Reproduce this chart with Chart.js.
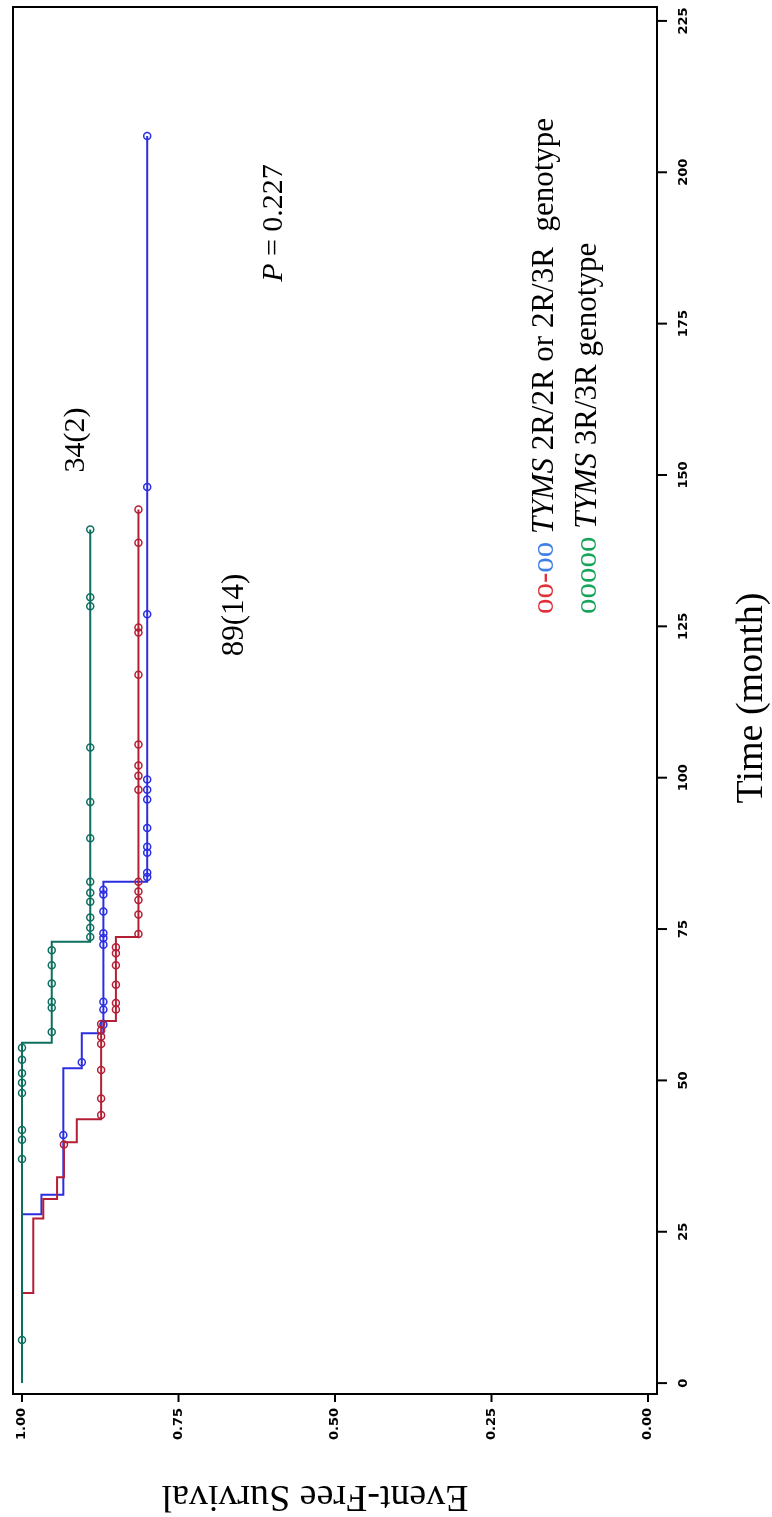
<!DOCTYPE html>
<html>
<head>
<meta charset="utf-8">
<script src="https://cdn.jsdelivr.net/npm/chart.js@4.4.1/dist/chart.umd.min.js"></script>
<style>
  html, body { margin: 0; padding: 0; background: #fff; }
  canvas { display: block; }
</style>
</head>
<body>
<canvas id="kmChart" width="772" height="1517"></canvas>
<script>
// event-free survival by TYMS genotype (time in months)
const redEventTimes = [14.9, 27.2, 30.4, 34.0, 39.8, 43.6, 59.8, 73.7];
const redSurvival   = [0.982, 0.966, 0.944, 0.933, 0.9125, 0.8736, 0.850, 0.814];
const redCensorTimes = [39.4, 44.3, 47.0, 51.7, 56.0, 57.2, 58.3, 59.3, 61.7, 62.8, 65.8, 69.0,
  71.0, 72.0, 74.2, 77.4, 79.8, 81.2, 82.8, 98.0, 100.3, 102.0, 105.5, 117.0, 124.0, 124.8,
  138.8, 144.3];

const blueEventTimes = [27.9, 31.1, 52.0, 57.8, 82.8];
const blueSurvival   = [0.969, 0.934, 0.9045, 0.870, 0.800];
const blueCensorTimes = [41.0, 53.0, 59.2, 61.7, 63.0, 72.4, 73.5, 74.3, 77.9, 80.7, 81.5,
  83.6, 84.3, 87.6, 88.6, 91.7, 96.4, 98.0, 99.7, 127.0, 148.0, 206.0];

const greenEventTimes = [56.2, 72.9];
const greenSurvival   = [0.9525, 0.891];
const greenCensorTimes = [7.1, 37.0, 40.2, 41.8, 47.9, 49.6, 51.2, 53.4, 55.4, 58.0, 62.0, 63.0,
  66.0, 69.0, 71.5, 73.7, 75.2, 76.9, 79.5, 81.0, 82.8, 90.0, 96.0, 105.0, 128.3, 129.8, 141.0];

const survivalTicks = [0, 0.25, 0.5, 0.75, 1];
const survivalTickLabels = ['0.00', '0.25', '0.50', '0.75', '1.00'];
const timeTicks = [0, 25, 50, 75, 100, 125, 150, 175, 200, 225];
const timeTickLabels = ['0', '25', '50', '75', '100', '125', '150', '175', '200', '225'];

const RED = '#b41f35';
const BLUE = '#2b2ee0';
const GREEN = '#0d6f5f';

function kmPath(times, surv, censors) {
  const pts = [{ x: 1, y: 0 }];
  times.forEach((t, i) => pts.push({ x: surv[i], y: t }));
  pts.push({ x: surv[surv.length - 1], y: Math.max(...censors) });
  return pts;
}

function survAt(times, surv, t) {
  let s = 1;
  times.forEach((tt, i) => { if (tt <= t) s = surv[i]; });
  return s;
}

function censorPoints(times, surv, censors) {
  return censors.map(t => ({ x: survAt(times, surv, t), y: t }));
}

// lower order is painted later (on top)
function curve(label, times, surv, censors, color, order) {
  return {
    label: label,
    data: kmPath(times, surv, censors),
    showLine: true,
    stepped: 'after',
    borderColor: color,
    borderWidth: 2,
    pointRadius: 0,
    fill: false,
    order: order
  };
}

function marks(label, times, surv, censors, color, order) {
  return {
    label: label,
    data: censorPoints(times, surv, censors),
    showLine: false,
    pointStyle: 'circle',
    pointRadius: 3.5,
    pointBorderWidth: 1.5,
    pointBorderColor: color,
    pointBackgroundColor: 'rgba(255,255,255,0)',
    order: order
  };
}

const datasets = [
  curve('2R/2R', redEventTimes, redSurvival, redCensorTimes, RED, 5),
  curve('2R/3R', blueEventTimes, blueSurvival, blueCensorTimes, BLUE, 6),
  curve('3R/3R', greenEventTimes, greenSurvival, greenCensorTimes, GREEN, 4),
  marks('2R/2R censored', redEventTimes, redSurvival, redCensorTimes, RED, 2),
  marks('2R/3R censored', blueEventTimes, blueSurvival, blueCensorTimes, BLUE, 3),
  marks('3R/3R censored', greenEventTimes, greenSurvival, greenCensorTimes, GREEN, 1)
];

// draws text turned by angle, made of coloured / styled runs
function runText(ctx, x, y, angle, runs, align) {
  ctx.save();
  ctx.translate(x, y);
  ctx.rotate(angle);
  ctx.textBaseline = 'middle';
  let total = 0;
  runs.forEach(r => { ctx.font = r.font; total += ctx.measureText(r.text).width; });
  let pos = align === 'center' ? -total / 2 : 0;
  ctx.textAlign = 'left';
  runs.forEach(r => {
    ctx.font = r.font;
    ctx.fillStyle = r.color || '#000';
    ctx.fillText(r.text, pos, 0);
    pos += ctx.measureText(r.text).width;
  });
  ctx.restore();
}

const SERIF = '"Liberation Serif", "Times New Roman", serif';
const TICKFONT = 'bold 13px "DejaVu Sans", sans-serif';

const framePlugin = {
  id: 'frame',
  afterDraw(chart) {
    const { ctx, chartArea: a } = chart;
    const xs = chart.scales.x, ys = chart.scales.y;
    ctx.save();
    ctx.strokeStyle = '#000';
    ctx.lineWidth = 2;
    ctx.strokeRect(a.left, a.top, a.right - a.left, a.bottom - a.top);

    // survival ticks along the bottom
    survivalTicks.forEach((v, i) => {
      const px = xs.getPixelForValue(v);
      ctx.beginPath();
      ctx.moveTo(px, a.bottom);
      ctx.lineTo(px, a.bottom + 8);
      ctx.stroke();
      runText(ctx, px, a.bottom + 30, -Math.PI / 2,
        [{ text: survivalTickLabels[i], font: TICKFONT }], 'center');
    });

    // time ticks along the right side
    timeTicks.forEach((v, i) => {
      const py = ys.getPixelForValue(v);
      ctx.beginPath();
      ctx.moveTo(a.right, py);
      ctx.lineTo(a.right + 10, py);
      ctx.stroke();
      runText(ctx, a.right + 27, py, -Math.PI / 2,
        [{ text: timeTickLabels[i], font: TICKFONT }], 'center');
    });

    // axis titles
    runText(ctx, 315, 1496, Math.PI,
      [{ text: 'Event-Free Survival', font: '38px ' + SERIF }], 'center');
    runText(ctx, 752, 698, -Math.PI / 2,
      [{ text: 'Time (month)', font: '38px ' + SERIF }], 'center');

    // annotations
    runText(ctx, 274, 223, -Math.PI / 2, [
      { text: 'P', font: 'italic 30px ' + SERIF },
      { text: ' = 0.227', font: '30px ' + SERIF }
    ], 'center');
    runText(ctx, 76, 440, -Math.PI / 2, [{ text: '34(2)', font: '30px ' + SERIF }], 'center');
    runText(ctx, 235, 615, -Math.PI / 2, [{ text: '89(14)', font: '31px ' + SERIF }], 'center');

    // legend
    runText(ctx, 545, 614, -Math.PI / 2, [
      { text: 'oo', font: '31px ' + SERIF, color: '#e0303a' },
      { text: '-', font: '31px ' + SERIF, color: '#e0303a' },
      { text: 'oo', font: '31px ' + SERIF, color: '#3d7ee8' },
      { text: ' ', font: '31px ' + SERIF },
      { text: 'TYMS', font: 'italic 31px ' + SERIF },
      { text: ' 2R/2R or 2R/3R  genotype', font: '31px ' + SERIF }
    ], 'left');
    runText(ctx, 588, 614, -Math.PI / 2, [
      { text: 'ooooo', font: '31px ' + SERIF, color: '#17a35a' },
      { text: ' ', font: '31px ' + SERIF },
      { text: 'TYMS', font: 'italic 31px ' + SERIF },
      { text: ' 3R/3R genotype', font: '31px ' + SERIF }
    ], 'left');
    ctx.restore();
  }
};

new Chart(document.getElementById('kmChart'), {
  type: 'scatter',
  data: { datasets: datasets },
  options: {
    responsive: false,
    animation: false,
    layout: { padding: { left: 13, top: 7, right: 0, bottom: 0 } },
    plugins: {
      legend: { display: false },
      tooltip: { enabled: false }
    },
    scales: {
      x: {
        type: 'linear',
        position: 'bottom',
        reverse: true,
        min: -0.0144,
        max: 1.0144,
        grid: { display: false },
        border: { display: false },
        ticks: { display: false },
        afterBuildTicks: s => { s.ticks = survivalTicks.map(v => ({ value: v })); },
        afterFit: s => { s.height = 123; }
      },
      y: {
        type: 'linear',
        position: 'right',
        min: -1.8,
        max: 227.3,
        grid: { display: false },
        border: { display: false },
        ticks: { display: false },
        afterBuildTicks: s => { s.ticks = timeTicks.map(v => ({ value: v })); },
        afterFit: s => { s.width = 115; }
      }
    }
  },
  plugins: [framePlugin]
});
</script>
</body>
</html>
